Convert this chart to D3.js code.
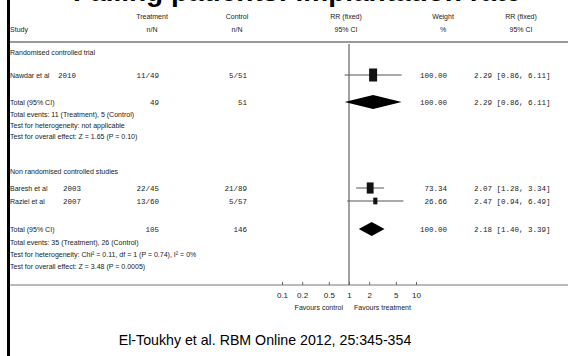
<!DOCTYPE html>
<html>
<head>
<meta charset="utf-8">
<script src="https://cdn.jsdelivr.net/npm/d3@7"></script>
<style>
  html, body { margin: 0; padding: 0; background: #fff; }
  svg { display: block; }
  .tbl { font-family: "Liberation Sans Narrow", "Arial Narrow", "Liberation Sans", Arial, sans-serif; font-size: 8px; fill: #222; }
  .mono { font-family: "Liberation Mono", "DejaVu Sans Mono", monospace; font-size: 7.5px; fill: #222; }
</style>
</head>
<body>
<svg id="chart" width="568" height="356"></svg>
<script>
// Study-level data
const studyNames = ["Nawdar et al", "Baresh et al", "Raziel et al"];
const studyYears = ["2010", "2003", "2007"];
const treatEvents = [11, 22, 13];
const treatTotals = [49, 45, 60];
const ctrlEvents = [5, 21, 5];
const ctrlTotals = [51, 89, 57];
const studyRR = [2.29, 2.07, 2.47];
const studyLo = [0.86, 1.28, 0.94];
const studyHi = [6.11, 3.34, 6.49];
const studyWeight = [100.00, 73.34, 26.66];

// Pooled (subgroup) estimates
const pooledTreatN = [49, 105];
const pooledCtrlN = [51, 146];
const pooledRR = [2.29, 2.18];
const pooledLo = [0.86, 1.40];
const pooledHi = [6.11, 3.39];
const pooledWeight = [100.00, 100.00];

// Axis ticks
const tickValues = [0.1, 0.2, 0.5, 1, 2, 5, 10];
const tickLabels = ["0.1", "0.2", "0.5", "1", "2", "5", "10"];

const svg = d3.select("#chart");
const x = d3.scaleLog().domain([0.1, 10]).range([282, 416]);
const boxW = d3.scaleSqrt().domain([0, 100]).range([0, 8]);
const boxH = d3.scaleSqrt().domain([0, 100]).range([0, 13]);

// Slide title (only its lower edge falls inside the frame)
svg.append("text")
  .attr("x", 73).attr("y", 0.5)
  .style("font-family", "Liberation Sans, Arial, sans-serif")
  .style("font-weight", "bold").style("font-size", "28px").style("fill", "#000")
  .text("Failing patients: implantation rate");

// Left frame bar
svg.append("rect").attr("x", 7).attr("y", 0).attr("width", 3).attr("height", 356).attr("fill", "#000");

// Table text; the narrow sans is squeezed a little further horizontally
function txt(xp, yp, s, anchor, cls) {
  const c = cls || "tbl";
  const sx = c === "tbl" ? 0.88 : 1;
  return svg.append("text").attr("class", c)
    .attr("transform", `translate(${xp},${yp}) scale(${sx},1)`)
    .attr("dy", "0.35em")
    .attr("text-anchor", anchor || "start").text(s);
}

// Column headers
const hdr1 = 16, hdr2 = 29;
txt(10, hdr2, "Study");
txt(152, hdr1, "Treatment", "middle"); txt(152, hdr2, "n/N", "middle");
txt(237, hdr1, "Control", "middle"); txt(237, hdr2, "n/N", "middle");
txt(346, hdr1, "RR (fixed)", "middle"); txt(346, hdr2, "95% CI", "middle");
txt(443, hdr1, "Weight", "middle"); txt(443, hdr2, "%", "middle");
txt(521, hdr1, "RR (fixed)", "middle"); txt(521, hdr2, "95% CI", "middle");

// Rules
svg.append("line").attr("x1", 10).attr("x2", 568).attr("y1", 42).attr("y2", 42)
  .attr("stroke", "#777").attr("stroke-width", 1.5);
const axisY = 285;
svg.append("line").attr("x1", 10).attr("x2", 568).attr("y1", axisY).attr("y2", axisY)
  .attr("stroke", "#777").attr("stroke-width", 1.2);
svg.append("line").attr("x1", x(1)).attr("x2", x(1)).attr("y1", 44).attr("y2", axisY)
  .attr("stroke", "#444").attr("stroke-width", 1);

const fmt2 = d3.format(".2f");
const ciText = (r, l, h) => `${fmt2(r)} [${fmt2(l)}, ${fmt2(h)}]`;

// Study rows
const studyRowY = [75, 188, 201];
studyNames.forEach((name, i) => {
  const y = studyRowY[i];
  txt(10, y, name);
  txt(i === 0 ? 58 : 63, y, studyYears[i], "start", "mono");
  txt(159, y, `${treatEvents[i]}/${treatTotals[i]}`, "end", "mono");
  txt(247, y, `${ctrlEvents[i]}/${ctrlTotals[i]}`, "end", "mono");
  txt(447, y, fmt2(studyWeight[i]), "end", "mono");
  txt(474, y, ciText(studyRR[i], studyLo[i], studyHi[i]), "start", "mono");
  svg.append("line").attr("x1", x(studyLo[i])).attr("x2", x(studyHi[i]))
    .attr("y1", y).attr("y2", y).attr("stroke", "#555").attr("stroke-width", 1);
  const w = boxW(studyWeight[i]), h = boxH(studyWeight[i]);
  svg.append("rect").attr("x", x(studyRR[i]) - w / 2).attr("y", y - h / 2)
    .attr("width", w).attr("height", h).attr("fill", "#111");
});

// Pooled rows
const pooledRowY = [102, 229];
const summaryY = [[114, 125, 136], [242, 254, 266]];
const summaryText = [
  ["Total events: 11 (Treatment), 5 (Control)",
   "Test for heterogeneity: not applicable",
   "Test for overall effect: Z = 1.65 (P = 0.10)"],
  ["Total events: 35 (Treatment), 26 (Control)",
   "Test for heterogeneity: Chi\u00B2 = 0.11, df = 1 (P = 0.74), I\u00B2 = 0%",
   "Test for overall effect: Z = 3.48 (P = 0.0005)"]
];
pooledRR.forEach((r, i) => {
  const y = pooledRowY[i];
  txt(10, y, "Total (95% CI)");
  txt(159, y, String(pooledTreatN[i]), "end", "mono");
  txt(247, y, String(pooledCtrlN[i]), "end", "mono");
  txt(447, y, fmt2(pooledWeight[i]), "end", "mono");
  txt(474, y, ciText(r, pooledLo[i], pooledHi[i]), "start", "mono");
  const hh = 7;
  const pts = [[x(pooledLo[i]), y], [x(r), y - hh], [x(pooledHi[i]), y], [x(r), y + hh]];
  svg.append("path").attr("d", d3.line()(pts) + "Z").attr("fill", "#000");
  summaryText[i].forEach((s, j) => txt(10, summaryY[i][j], s));
});

// Subgroup headings
txt(10, 52, "Randomised controlled trial");
txt(10, 171, "Non randomised controlled studies");

// Log axis
const axis = d3.axisBottom(x).tickValues(tickValues)
  .tickFormat((d, i) => tickLabels[i]).tickSize(0).tickPadding(7);
const ag = svg.append("g").attr("transform", `translate(0,${axisY})`).call(axis);
ag.select(".domain").remove();
ag.selectAll("text").attr("class", "tbl").style("font-size", "8px").attr("fill", "#222");
ag.selectAll(".tick").append("line").attr("y1", -3).attr("y2", 0).attr("stroke", "#666");

txt(x(1) - 6, 307, "Favours control", "end");
txt(x(1) + 5, 307, "Favours treatment", "start");

// Source citation
svg.append("text").attr("x", 265).attr("y", 340).attr("dy", "0.35em")
  .attr("text-anchor", "middle")
  .style("font-family", "Liberation Sans, Arial, sans-serif").style("font-size", "14.2px").style("fill", "#000")
  .text("El-Toukhy et al. RBM Online 2012, 25:345-354");
</script>
</body>
</html>
